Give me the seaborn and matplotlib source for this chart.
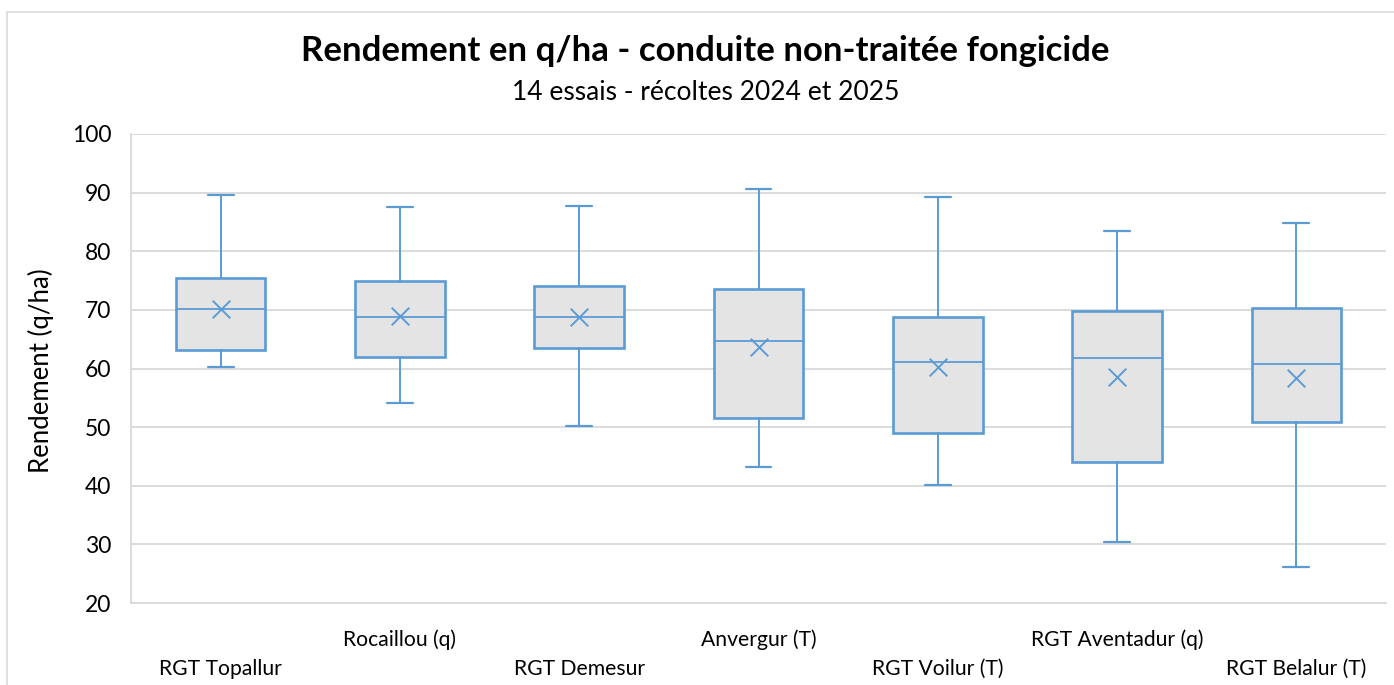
import seaborn as sns
import matplotlib.pyplot as plt
import pandas as pd
from matplotlib.patches import Rectangle

# data (q/ha)
varieties = ['RGT Topallur', 'Rocaillou (q)', 'RGT Demesur', 'Anvergur (T)',
             'RGT Voilur (T)', 'RGT Aventadur (q)', 'RGT Belalur (T)']
whis_low = [60.2, 54.2, 50.2, 43.2, 40.1, 30.4, 26.1]
q1 = [63.2, 62.0, 63.5, 51.6, 49.0, 44.0, 50.8]
median = [70.2, 68.7, 68.7, 64.7, 61.1, 61.8, 60.7]
q3 = [75.5, 74.9, 74.1, 73.5, 68.8, 69.8, 70.4]
whis_high = [89.6, 87.5, 87.8, 90.7, 89.3, 83.5, 84.8]
mean = [70.1, 68.9, 68.8, 63.6, 60.3, 58.5, 58.4]

blue = '#5b9bd5'
grid_col = '#d9d9d9'

sns.set_theme(style='white')
plt.rcParams['font.family'] = ['Lato', 'DejaVu Sans']
plt.rcParams['text.color'] = 'black'
plt.rcParams['axes.labelcolor'] = 'black'
plt.rcParams['xtick.color'] = 'black'
plt.rcParams['ytick.color'] = 'black'

fig = plt.figure(figsize=(13.94, 6.85), dpi=100)
ax = fig.add_axes([131 / 1394, 1 - 603 / 685, 1255 / 1394, 469 / 685])

# chart border like Excel
fig.patches.append(Rectangle((7 / 1394, -0.1), 1.2, 1 - 12 / 685 + 0.1,
                             transform=fig.transFigure, fill=False,
                             edgecolor='#d9d9d9', lw=1.2))

stats = []
for i, v in enumerate(varieties):
    stats.append({'label': v, 'whislo': whis_low[i], 'q1': q1[i], 'med': median[i],
                  'q3': q3[i], 'whishi': whis_high[i], 'fliers': []})

ax.bxp(stats, positions=range(len(varieties)), widths=0.5, patch_artist=True,
       showfliers=False, capwidths=0.145,
       boxprops=dict(facecolor='#e4e4e4', edgecolor=blue, linewidth=1.9),
       medianprops=dict(color=blue, linewidth=1.3),
       whiskerprops=dict(color=blue, linewidth=1.4),
       capprops=dict(color=blue, linewidth=1.6))

df_mean = pd.DataFrame({'pos': range(len(varieties)), 'mean': mean})
sns.scatterplot(data=df_mean, x='pos', y='mean', marker='x', s=160,
                color=blue, linewidth=1.4, ax=ax, zorder=5)

ax.set_xlim(-0.5, len(varieties) - 0.5)
ax.set_ylim(20, 100)
ax.set_yticks(range(20, 101, 10))
ax.yaxis.grid(True, color=grid_col, linewidth=1.3)
ax.set_axisbelow(True)
for side in ['top', 'right']:
    ax.spines[side].set_visible(False)
for side in ['left', 'bottom']:
    ax.spines[side].set_color(grid_col)
    ax.spines[side].set_linewidth(1.3)

# staggered category labels
labels = []
for i, v in enumerate(varieties):
    labels.append('\n' + v if i % 2 == 0 else v + '\n')
ax.set_xticks(range(len(varieties)))
ax.set_xticklabels(labels, fontsize=15.2, linespacing=1.6)
ax.tick_params(axis='x', length=0, pad=19)
ax.tick_params(axis='y', length=0, pad=14, labelsize=16.5)
ax.set_xlabel('')
ax.set_ylabel('')

fig.text(41 / 1394, 1 - 371 / 685, 'Rendement (q/ha)', rotation=90,
         ha='center', va='center', fontsize=18.5)
fig.text(0.506, 1 - 51 / 685, 'Rendement en q/ha - conduite non-traitée fongicide',
         ha='center', va='center', fontsize=25, fontweight='bold')
fig.text(0.506, 1 - 93 / 685, '14 essais - récoltes 2024 et 2025',
         ha='center', va='center', fontsize=19)

fig.savefig('out.png', dpi=100)
